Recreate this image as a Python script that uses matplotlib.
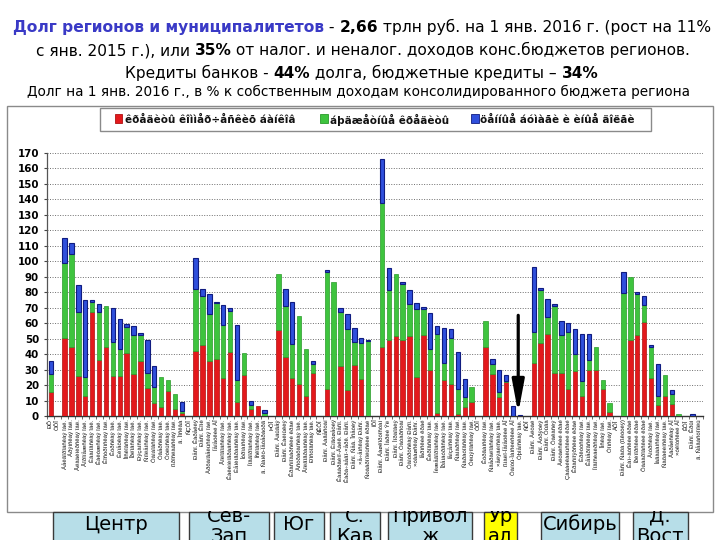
import matplotlib
matplotlib.use('Agg')
import matplotlib.pyplot as plt
from matplotlib.patches import Rectangle
import numpy as np

W, H = 720, 540

# ---------------- data ----------------
regions = [
    'РФ', 'ЦФО',
    'Белгородская обл.', 'Брянская обл.', 'Владимирская обл.', 'Воронежская обл.',
    'Ивановская обл.', 'Калужская обл.', 'Костромская обл.', 'Курская обл.',
    'Липецкая обл.', 'Московская обл.', 'Орловская обл.', 'Рязанская обл.',
    'Смоленская обл.', 'Тамбовская обл.', 'Тверская обл.', 'Тульская обл.',
    'Ярославская обл.', 'г. Москва',
    'СЗФО',
    'Респ. Карелия', 'Респ. Коми', 'Архангельская обл.', 'Ненецкий АО',
    'Вологодская обл.', 'Калининградская обл.', 'Ленинградская обл.',
    'Мурманская обл.', 'Новгородская обл.', 'Псковская обл.', 'г. Санкт-Петербург',
    'ЮФО',
    'Респ. Адыгея', 'Респ. Калмыкия', 'Краснодарский край', 'Астраханская обл.',
    'Волгоградская обл.', 'Ростовская обл.',
    'СКФО',
    'Респ. Дагестан', 'Респ. Ингушетия', 'Кабардино-Балк. Респ.',
    'Карачаево-Черк. Респ.', 'Респ. Сев. Осетия', 'Чеченская Респ.',
    'Ставропольский край',
    'ПФО',
    'Респ. Башкортостан', 'Респ. Марий Эл', 'Респ. Мордовия', 'Респ. Татарстан',
    'Удмуртская Респ.', 'Чувашская Респ.', 'Пермский край', 'Кировская обл.',
    'Нижегородская обл.', 'Оренбургская обл.', 'Пензенская обл.',
    'Самарская обл.', 'Саратовская обл.', 'Ульяновская обл.',
    'УФО',
    'Курганская обл.', 'Свердловская обл.', 'Челябинская обл.',
    'Ямало-Ненецкий АО', 'Ханты-Мансийский АО', 'Тюменская обл.',
    'СФО',
    'Респ. Алтай', 'Респ. Бурятия', 'Респ. Тыва', 'Респ. Хакасия',
    'Алтайский край', 'Забайкальский край', 'Красноярский край',
    'Иркутская обл.', 'Кемеровская обл.', 'Новосибирская обл.', 'Омская обл.',
    'Томская обл.',
    'ДФО',
    'Респ. Саха (Якутия)', 'Камчатский край', 'Приморский край',
    'Хабаровский край', 'Амурская обл.', 'Магаданская обл.',
    'Сахалинская обл.', 'Еврейская АО', 'Чукотский АО',
    'КФО', 'Респ. Крым', 'г. Севастополь',
]

bank_credits = [
    15.5, 0,
    50.6, 44.8, 26.0, 12.9, 67.4, 36.2, 44.5, 26.0, 26.0, 40.9, 26.9, 35.7,
    17.9, 8.6, 6.0, 16.4, 4.3, 1.7,
    0,
    42.0, 46.1, 35.5, 37.0, 24.3, 41.3, 9.3, 26.3, 4.5, 6.5, 0,
    0,
    55.3, 37.9, 24.5, 20.7, 12.7, 27.5,
    0,
    17.2, 0, 32.5, 16.8, 33.1, 23.7, 0,
    0,
    44.3, 49.1, 51.4, 49.1, 51.6, 25.2, 52.3, 29.9, 1.7, 23.0, 20.7, 1.1,
    5.8, 9.3,
    0,
    44.8, 26.9, 12.1, 21.9, 0, 0,
    0,
    34.0, 47.3, 52.9, 28.0, 28.0, 17.6, 28.8, 12.9, 29.7, 29.9, 17.2, 2.6,
    0,
    0, 49.1, 52.1, 60.7, 24.3, 7.1, 13.1, 7.7, 0,
    0, 0, 0,
]

budget_credits = [
    11.5, 0,
    48.4, 59.8, 41.4, 12.1, 6.2, 30.9, 26.7, 21.8, 17.5, 16.8, 25.4, 16.8,
    9.6, 9.9, 19.0, 7.1, 9.7, 1.7,
    0,
    39.8, 31.6, 30.3, 35.7, 34.4, 26.7, 13.9, 14.4, 2.6, 0, 1.7,
    0,
    36.4, 33.3, 22.2, 44.1, 30.6, 6.1,
    0,
    76.0, 86.3, 34.6, 39.4, 14.9, 23.2, 48.2,
    0,
    93.4, 32.0, 40.3, 36.1, 20.7, 43.7, 16.6, 13.1, 51.5, 11.0, 29.9, 16.3,
    6.7, 9.4,
    0,
    16.5, 6.7, 3.2, 0.5, 0, 0,
    0,
    20.2, 34.0, 11.2, 42.8, 24.1, 36.8, 11.4, 9.9, 6.5, 14.9, 6.0, 5.6,
    0,
    79.2, 40.4, 26.7, 10.7, 20.5, 5.8, 13.6, 6.7, 1.3,
    0, 0, 0,
]

securities_other = [
    8.5, 0,
    16.0, 7.3, 17.0, 49.9, 1.1, 5.0, 0, 22.1, 18.9, 1.7, 6.0, 1.3,
    21.6, 13.8, 0, 0, 0, 5.8,
    0,
    20.0, 4.3, 12.7, 1.1, 13.0, 1.7, 35.8, 0, 2.8, 0, 2.2,
    0,
    0, 11.0, 26.7, 0, 0, 1.9,
    0,
    1.1, 0, 2.6, 9.7, 8.6, 3.2, 1.1,
    0,
    28.0, 14.2, 0, 1.3, 8.8, 4.1, 1.7, 23.3, 5.1, 22.6, 5.6, 23.9,
    11.2, 0,
    0,
    0, 3.4, 14.6, 4.1, 6.2, 0.9,
    0,
    41.8, 1.5, 11.4, 1.3, 9.4, 5.4, 16.2, 30.1, 16.7, 0, 0, 0,
    0,
    13.8, 0, 1.0, 6.1, 1.0, 20.5, 0, 2.4, 0,
    0, 1.3, 0,
]

legend_labels = ['кредиты коммерческих банков', 'бюджетные кредиты',
                 'ценные бумаги и иные долги']
yticks = list(range(0, 171, 10))
district_boxes = ['Центр', 'Сев-\nЗап', 'Юг', 'С.\nКав', 'Привол\nж',
                  'Ур\nал', 'Сибирь', 'Д.\nВост']

title_lines = [
    [('Долг регионов и муниципалитетов', 'bold', '#3a3ac6'),
     (' - ', 'normal', 'black'), ('2,66', 'bold', 'black'),
     (' трлн руб. на 1 янв. 2016 г. (рост на 11%', 'normal', 'black')],
    [('с янв. 2015 г.), или ', 'normal', 'black'), ('35%', 'bold', 'black'),
     (' от налог. и неналог. доходов конс.бюджетов регионов.', 'normal', 'black')],
    [('Кредиты банков - ', 'normal', 'black'), ('44%', 'bold', 'black'),
     (' долга, бюджетные кредиты – ', 'normal', 'black'), ('34%', 'bold', 'black')],
    [('Долг на 1 янв. 2016 г., в % к собственным доходам консолидированного бюджета региона',
      'normal', 'black')],
]


def moj(s):
    # text shown in the chart as cp1251 bytes read as cp1252
    return s.encode('cp1251').decode('cp1252')


RED, GREEN, BLUE = '#e3191c', '#3ec43e', '#2f4fdc'
RED_E, GREEN_E, BLUE_E = '#b01010', '#2a9a2a', '#101c80'

fig = plt.figure(figsize=(W / 100, H / 100), dpi=100)
fig.patch.set_facecolor('white')
renderer = fig.canvas.get_renderer()


def fx(x):
    return x / W


def fy(y):
    return 1 - y / H


def measure(s, size, weight, family):
    t = fig.text(0, 0, s + '|', fontsize=size, fontweight=weight, family=family)
    t2 = fig.text(0, 0, '|', fontsize=size, fontweight=weight, family=family)
    w = t.get_window_extent(renderer).width - t2.get_window_extent(renderer).width
    t.remove()
    t2.remove()
    return w


TFAM = ['DejaVu Sans']


def draw_line(pieces, cx, y, target_w, base):
    tot = sum(measure(s, base, wt, TFAM) for s, wt, c in pieces)
    size = base * target_w / tot
    widths = [measure(s, size, wt, TFAM) for s, wt, c in pieces]
    x = cx - sum(widths) / 2
    for (s, wt, c), w in zip(pieces, widths):
        fig.text(fx(x), fy(y), s, fontsize=size, fontweight=wt, color=c,
                 family=TFAM, ha='left', va='baseline')
        x += w


# title
line_specs = [(362.5, 32.3, 699), (363, 55.0, 656), (362, 77.7, 474), (358.5, 95.7, 663)]
for pieces, (cx, y, tw) in zip(title_lines, line_specs):
    draw_line(pieces, cx, y, tw, 11)

# chart frame
fig.add_artist(Rectangle((fx(7), fy(512)), fx(706), 406 / H, transform=fig.transFigure,
                         facecolor='white', edgecolor='#8a8a8a', lw=1.0, zorder=0))

# legend
fig.add_artist(Rectangle((fx(100), fy(131)), fx(551), 23 / H, transform=fig.transFigure,
                         facecolor='white', edgecolor='#8a8a8a', lw=1.0, zorder=1))
leg_sq = [(114.5, RED, RED_E), (319.5, GREEN, GREEN_E), (470.5, BLUE, BLUE_E)]
leg_txt_x = [(125, 293), (330, 440), (480, 638)]
lsize = 6.6 * 168 / measure(moj(legend_labels[0]), 6.6, 'bold', 'DejaVu Sans')
for (sx, c, ec), (tx0, tx1), lab in zip(leg_sq, leg_txt_x, legend_labels):
    fig.add_artist(Rectangle((fx(sx), fy(123)), fx(8), 9 / H, transform=fig.transFigure,
                             facecolor=c, edgecolor=ec, lw=0.6, zorder=2))
    fig.text(fx(tx0), fy(119.5), moj(lab), fontsize=lsize, fontweight='bold',
             family='DejaVu Sans', ha='left', va='center', color='#111111', zorder=3)

# main axes
ax = fig.add_axes([fx(47.3), fy(416), fx(702.8 - 47.3), (416 - 152.7) / H])
ax.set_facecolor('none')
x = np.arange(len(regions))
bank = np.array(bank_credits)
budg = np.array(budget_credits)
oth = np.array(securities_other)


def lw_of(v):
    return [0.5 if a > 0 else 0 for a in v]


bw = 0.65
ax.bar(x, bank, width=bw, color=RED, edgecolor=RED_E, linewidth=lw_of(bank), zorder=3)
ax.bar(x, budg, width=bw, bottom=bank, color=GREEN, edgecolor=GREEN_E,
       linewidth=lw_of(budg), zorder=3)
ax.bar(x, oth, width=bw, bottom=bank + budg, color=BLUE, edgecolor=BLUE_E,
       linewidth=[0.8 if a > 0 else 0 for a in oth], zorder=3)

ax.set_xlim(-0.5, len(regions) - 0.5)
ax.set_ylim(0, 170)
ax.set_yticks(yticks)
ax.set_yticklabels([str(v) for v in yticks], fontsize=7.4, fontweight='bold',
                   family='DejaVu Sans')
ax.tick_params(axis='y', length=2.5, width=0.8, pad=3.5, color='#444444')
ax.yaxis.grid(True, linestyle=(0, (1, 1.6)), color='#6e6e6e', lw=0.7)
ax.set_axisbelow(True)
for s in ('top', 'right'):
    ax.spines[s].set_visible(False)
ax.spines['left'].set_color('#555555')
ax.spines['bottom'].set_color('#333333')
ax.spines['left'].set_linewidth(0.9)
ax.spines['bottom'].set_linewidth(1.0)

ax.set_xticks(x)
ax.set_xticklabels([moj(r) for r in regions], rotation=90, fontsize=4.3,
                   family='Liberation Sans', color='#111111')
ax.tick_params(axis='x', length=0, pad=2.5)
ax.set_xticks(np.arange(-0.5, len(regions), 1.0), minor=True)
ax.tick_params(axis='x', which='minor', length=2.0, width=0.5, color='#333333')

# arrow pointing at the regions without debt
ax_x = regions.index('Тюменская обл.') - 0.25
ax.annotate('', xy=(ax_x, 1.7), xytext=(ax_x, 65),
            arrowprops=dict(arrowstyle='-|>,head_length=1.4,head_width=0.26',
                            mutation_scale=14, lw=2.3, color='black',
                            shrinkA=0, shrinkB=0), zorder=5)

# district boxes at the bottom
bx = fig.add_axes([0, 0, 1, 29 / H])
bx.set_xlim(0, W)
bx.set_ylim(H, 511)
bx.axis('off')
box_x = [(53, 179), (189.3, 269.3), (274, 324), (330, 380), (387.7, 471.7),
         (484.3, 516.7), (541, 619.3), (632.7, 687.7)]
for (x0, x1), name in zip(box_x, district_boxes):
    fc = '#ffff00' if name.startswith('Ур') else '#b7dee8'
    bx.add_patch(Rectangle((x0, 512.3), x1 - x0, 40, facecolor=fc,
                           edgecolor='#3a3a3a', lw=1.0, clip_on=True))
    lines = name.split('\n')
    ys = [530.5] if len(lines) == 1 else [521.5, 541.5]
    for ln, yy in zip(lines, ys):
        bx.text((x0 + x1) / 2, yy, ln, fontsize=14, family='DejaVu Sans',
                ha='center', va='baseline', color='black', clip_on=True)

fig.savefig('out.png', dpi=100, facecolor='white')
